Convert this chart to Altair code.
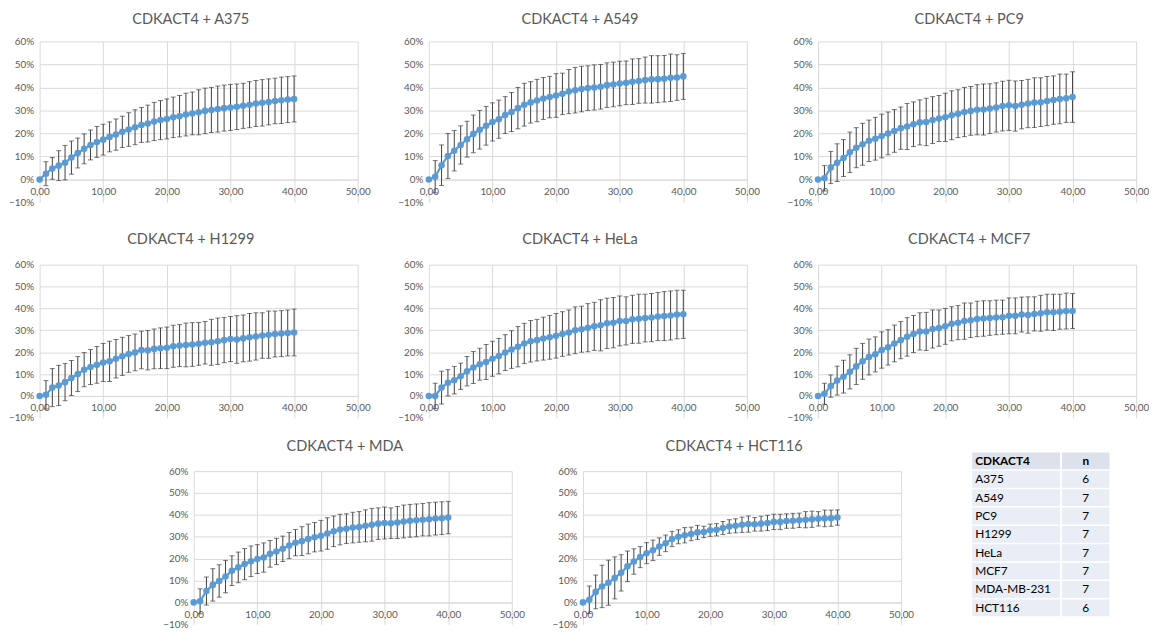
import altair as alt
import pandas as pd

# ---------------- data ----------------
T = list(range(41))

TITLES = ["CDKACT4 + A375", "CDKACT4 + A549", "CDKACT4 + PC9", "CDKACT4 + H1299",
          "CDKACT4 + HeLa", "CDKACT4 + MCF7", "CDKACT4 + MDA", "CDKACT4 + HCT116"]

MEAN_A375 = [0, 2.5, 4.8, 6, 7.3, 9.5, 11.5, 13.3, 15, 16.3, 17.3, 18.5, 19.5, 20.7, 21.7, 22.7, 23.7, 24.3, 25.2, 25.8,
             26.3, 27, 27.5, 28.2, 28.7, 29.2, 29.8, 30.2, 30.6, 31, 31.3, 31.6, 32, 32.5, 33, 33.3, 33.7, 34.1, 34.4, 34.7, 35]
ERR_A375 = [0, 5.2, 4.7, 6.5, 7.5, 7.2, 6.5, 6.5, 6.5, 6.7, 6.7, 6.5, 6.8, 6.8, 7.3, 7.6, 7.6, 8, 8.3, 8.5,
            8.7, 8.8, 9, 9.3, 9.3, 9.8, 9.9, 9.8, 10, 10, 10, 9.9, 9.8, 10, 10, 10.1, 10, 9.9, 10.1, 10, 10]

MEAN_A549 = [0, 1.2, 6.2, 10.2, 12.5, 15, 17.5, 19.8, 21.6, 23.3, 25, 26.2, 28, 29.3, 31, 32.5, 33.5, 34.3, 35.2, 35.8,
             36.5, 37.2, 38.2, 38.8, 39.3, 39.7, 40, 40.3, 41, 41.3, 41.7, 42, 42.5, 42.8, 43.2, 43.5, 43.6, 43.8, 44.2, 44.3, 44.8]
ERR_A549 = [0, 7, 8.8, 9.8, 8.8, 8.3, 7.8, 8.2, 8.4, 8.4, 8.3, 8.3, 8, 8.5, 9, 9.3, 9, 9.2, 9.1, 9,
            9.5, 9, 9.6, 9.9, 9.9, 9.7, 9.8, 9.7, 9.7, 9.7, 9.7, 9.5, 9.9, 9.7, 10, 10.3, 10.2, 10.1, 10.3, 9.9, 10]

MEAN_PC9 = [0, 0.5, 5.2, 7.3, 9.3, 11.8, 13.8, 15.3, 16.8, 17.7, 18.9, 20, 21.1, 22.3, 23, 24, 24.8, 25, 25.8, 26.5,
            27, 27.9, 28.6, 29.3, 29.8, 30.3, 30.4, 30.8, 31.3, 31.9, 32.2, 31.9, 32.5, 33, 33.4, 33.6, 34.1, 34.5, 35, 35.3, 35.8]
ERR_PC9 = [0, 5.5, 7, 8.2, 8, 8.8, 8.7, 9.1, 9, 9.3, 9.5, 9.3, 9.3, 9.2, 10, 9.7, 9.8, 10.3, 10.2, 10,
           10.5, 10.6, 10.4, 10.7, 10.6, 10.9, 11.1, 10.8, 10.7, 10.8, 10.9, 10.9, 10.5, 10.5, 10.8, 10.6, 10.7, 10.5, 10.8, 10.5, 11]

MEAN_H1299 = [0, 0.5, 3.8, 4.8, 6.3, 8.2, 10, 12, 13.2, 14.2, 15.3, 15.8, 17, 18.1, 19.2, 19.9, 21, 20.9, 21.5, 21.8,
              22, 22.7, 23, 23.3, 23.5, 23.8, 24.3, 24.5, 25, 25.5, 26, 25.8, 26.3, 26.8, 27.2, 27.6, 28, 28.3, 28.5, 28.8, 29]
ERR_H1299 = [0, 6.5, 8.7, 9.2, 8.5, 8, 8, 7.8, 8, 8.4, 8.7, 9.2, 8.8, 8.7, 8.4, 8.4, 8.6, 9, 9.1, 9.3,
             9.5, 9.6, 9.6, 10, 10, 9.8, 9.7, 10.5, 10.6, 10.3, 10.3, 10.9, 10.7, 10.9, 10.8, 10.4, 10.8, 10.5, 10.5, 10.5, 10.7]

MEAN_HELA = [0, 0, 3.8, 6, 7.2, 9, 11.3, 13, 14.5, 15.5, 17, 18.2, 19.8, 21.2, 22.5, 24, 25, 25.5, 26.2, 26.8,
             27.5, 28.3, 29, 30, 30.5, 31.2, 31.8, 32.3, 33.2, 33.5, 34.3, 34.3, 35, 35.3, 35.6, 35.8, 36.3, 36.5, 36.8, 37.2, 37.3]
ERR_HELA = [0, 5.8, 7.5, 6, 6.3, 6, 6.7, 7.3, 7.3, 8, 8, 8.1, 8.2, 8.6, 9.2, 9.2, 9.5, 9.5, 9.8, 10,
            10.2, 10.2, 10.3, 10.7, 10.5, 11, 11, 11.7, 11.5, 11.5, 11.4, 11, 11, 11.2, 10.9, 11, 11, 11.2, 11.2, 11.1, 11]

MEAN_MCF7 = [0, 1, 4.5, 7, 8.8, 11, 13.5, 15.8, 17.8, 19, 21, 22.2, 24, 25.5, 27, 28.3, 29.5, 29.5, 30.6, 31,
             31.8, 33, 33.5, 34.2, 34.6, 35.2, 35.4, 35.6, 35.9, 36, 36.6, 36.6, 37.2, 37, 37.5, 37.8, 38.3, 38.2, 38.5, 38.8, 38.8]
ERR_MCF7 = [0, 4.8, 5.1, 6.6, 7.5, 7.8, 8.3, 8.2, 8.2, 8, 8.3, 8.1, 8.4, 8.5, 8.8, 8.5, 8.5, 8.7, 8.7, 8.3,
            8.2, 7.8, 7.8, 8.3, 7.9, 8.1, 8.1, 7.9, 7.9, 7.8, 8.2, 8.2, 8, 8.3, 7.8, 8.2, 8.2, 8.3, 8, 8.2, 8]

MEAN_MDA = [0, 0.5, 5.2, 8, 9.8, 11.8, 14.5, 16, 17.5, 18.8, 19.8, 20.5, 22.2, 23.3, 24.5, 26, 27.3, 28, 29, 29.8,
            30.5, 31.5, 32.5, 33.3, 33.7, 34.2, 34.5, 35, 35.5, 36, 36.3, 36.2, 36.5, 37, 37.3, 37.5, 37.8, 38, 38.3, 38.5, 38.8]
ERR_MDA = [0, 5.7, 6.4, 7.4, 7.4, 7.4, 6.8, 7, 7.1, 7, 6.6, 6.7, 6.1, 6, 5.8, 6, 6, 6.6, 6.8, 6.7,
           7, 7.2, 7, 7, 6.8, 7, 7, 7.3, 7.5, 7.2, 7.3, 7, 7.3, 7.5, 7.5, 7.5, 7.4, 7.6, 7.5, 7.5, 7.4]

MEAN_HCT116 = [0, 1.2, 4.8, 7.3, 9, 11.2, 13.5, 16.5, 18.7, 20.7, 22.5, 23.8, 25.5, 27, 29, 30, 30.7, 31.3, 32, 32.2,
               33, 33.2, 34, 34.7, 35, 35.5, 35.8, 35.7, 36, 36.3, 36.8, 36.8, 37.2, 37.3, 37.5, 37.8, 38, 38.2, 38.4, 38.5, 38.8]
ERR_HCT116 = [0, 6.3, 7.7, 9.7, 10.3, 9.6, 8.3, 7, 5.8, 4.8, 4.8, 4.7, 4, 3.8, 3.5, 3.2, 3.5, 3.1, 3.2, 2.6,
              2.8, 2.8, 3, 3.1, 3.2, 3.5, 3.7, 3.1, 3.4, 3.5, 3.5, 3.5, 3.3, 3.4, 3.3, 3.7, 3.7, 3.3, 3.8, 3.7, 3.5]

X_TICKS = [0, 10, 20, 30, 40, 50]
Y_TICKS = [-0.1, 0, 0.1, 0.2, 0.3, 0.4, 0.5, 0.6]

TABLE_HEADER = ["CDKACT4", "n"]
TABLE_NAMES = ["A375", "A549", "PC9", "H1299", "HeLa", "MCF7", "MDA-MB-231", "HCT116"]
TABLE_N = ["6", "7", "7", "7", "7", "7", "7", "6"]

# ---------------- style ----------------
FONT = "Lato"
GRID = "#d9d9d9"
LABEL = "#595959"
BLUE = "#5b9bd5"
ERRC = "#3f3f3f"
PW = 322


def panel(title, mean, err, h, toff):
    df = pd.DataFrame({
        "t": T,
        "m": [v / 100 for v in mean],
        "lo": [(v - e) / 100 for v, e in zip(mean, err)],
        "hi": [(v + e) / 100 for v, e in zip(mean, err)],
    })
    xs = alt.Scale(domain=[0, 50], nice=False, zero=False)
    ys = alt.Scale(domain=[-0.1, 0.6], nice=False)
    xaxis = alt.Axis(values=X_TICKS, title=None, ticks=False,
                     labelExpr="replace(format(datum.value, '.2f'), '.', ',')",
                     domainColor=GRID, gridColor=GRID, offset=-h / 7.0,
                     labelPadding=7, labelFlush=False, labelOverlap=False,
                     labelColor=LABEL, labelFont=FONT, labelFontSize=10)
    yaxis = alt.Axis(values=Y_TICKS, format=".0%", title=None, ticks=False, domain=False,
                     gridColor=GRID, labelOverlap=False, labelFlush=False, labelSeparation=0,
                     gridOpacity={"condition": {"test": "datum.value < -0.05", "value": 0}, "value": 1},
                     labelPadding=6, labelColor=LABEL, labelFont=FONT, labelFontSize=10)

    def X(f):
        return alt.X(f"{f}:Q", scale=xs, axis=xaxis)

    def Y(f):
        return alt.Y(f"{f}:Q", scale=ys, axis=yaxis)

    base = alt.Chart(df)
    rule = base.mark_rule(color=ERRC, strokeWidth=1).encode(x=X("t"), y=Y("lo"), y2="hi:Q")
    cap_lo = base.mark_tick(color=ERRC, orient="horizontal", size=5, thickness=1).encode(
        x=X("t"), y=Y("lo"))
    cap_hi = base.mark_tick(color=ERRC, orient="horizontal", size=5, thickness=1).encode(
        x=X("t"), y=Y("hi"))
    line = base.mark_line(color=BLUE, strokeWidth=2.25).encode(x=X("t"), y=Y("m"))
    pts = base.mark_circle(color=BLUE, size=44, opacity=1).encode(x=X("t"), y=Y("m"))
    return alt.layer(rule, cap_lo, cap_hi, line, pts).properties(
        width=PW, height=h,
        title=alt.TitleParams(title, font=FONT, fontSize=14.7, fontWeight="normal",
                              color=LABEL, anchor="middle", dx=-8, offset=toff))


H1, H2, H3 = 163, 155, 155

p = [
    panel(TITLES[0], MEAN_A375, ERR_A375, H1, 10),
    panel(TITLES[1], MEAN_A549, ERR_A549, H1, 10),
    panel(TITLES[2], MEAN_PC9, ERR_PC9, H1, 10),
    panel(TITLES[3], MEAN_H1299, ERR_H1299, H2, 13),
    panel(TITLES[4], MEAN_HELA, ERR_HELA, H2, 13),
    panel(TITLES[5], MEAN_MCF7, ERR_MCF7, H2, 13),
    panel(TITLES[6], MEAN_MDA, ERR_MDA, H3, 13),
    panel(TITLES[7], MEAN_HCT116, ERR_HCT116, H3, 13),
]

# ---------------- table ----------------
tdf = pd.DataFrame({
    "row": list(range(len(TABLE_NAMES) + 1)),
    "name": [TABLE_HEADER[0]] + TABLE_NAMES,
    "n": [TABLE_HEADER[1]] + TABLE_N,
    "hdr": [1] + [0] * len(TABLE_NAMES),
})
row_scale = alt.Scale(domain=list(range(len(TABLE_NAMES) + 1)), range=[-19, 147],
                      paddingInner=0.08, paddingOuter=0)


def table_col(field, width, align):
    base = alt.Chart(tdf)
    bg = base.mark_rect().encode(
        y=alt.Y("row:O", scale=row_scale, axis=None),
        color=alt.Color("hdr:N", scale=alt.Scale(domain=[1, 0], range=["#dce1ec", "#e9edf5"]), legend=None))
    xpos = alt.value(3) if align == "left" else alt.value(width / 2)
    txt_h = base.transform_filter("datum.hdr == 1").mark_text(
        align=align, baseline="middle", font=FONT, fontSize=12, fontWeight="bold", color="black").encode(
        y=alt.Y("row:O", scale=row_scale, axis=None), x=xpos, text=f"{field}:N")
    txt_b = base.transform_filter("datum.hdr == 0").mark_text(
        align=align, baseline="middle", font=FONT, fontSize=12, color="black").encode(
        y=alt.Y("row:O", scale=row_scale, axis=None), x=xpos, text=f"{field}:N")
    return alt.layer(bg, txt_h, txt_b).properties(width=width, height=H3)


table = alt.hconcat(table_col("name", 89, "left"), table_col("n", 48, "center"),
                    spacing=2, bounds="flush")

spacer = alt.Chart(pd.DataFrame({"a": [0]})).mark_rule(opacity=0).encode(
    x=alt.value(0), y=alt.value(0), y2=alt.value(1)).properties(width=84, height=10)

row1 = alt.hconcat(p[0], p[1], p[2], spacing=72, bounds="flush")
row2 = alt.hconcat(p[3], p[4], p[5], spacing=72, bounds="flush")
row3 = alt.hconcat(spacer, p[6], p[7], table, spacing=72, bounds="flush")

top = alt.vconcat(row1, row2, spacing=25)
chart = alt.vconcat(top, row3, spacing=16).properties(
    padding={"left": 0, "top": 0, "right": 0, "bottom": 0},
    background="white",
).configure_view(stroke=None).configure_axisY(labelOverlap=False)

chart.save("out.html", embed_options={"renderer": "svg", "actions": False})
